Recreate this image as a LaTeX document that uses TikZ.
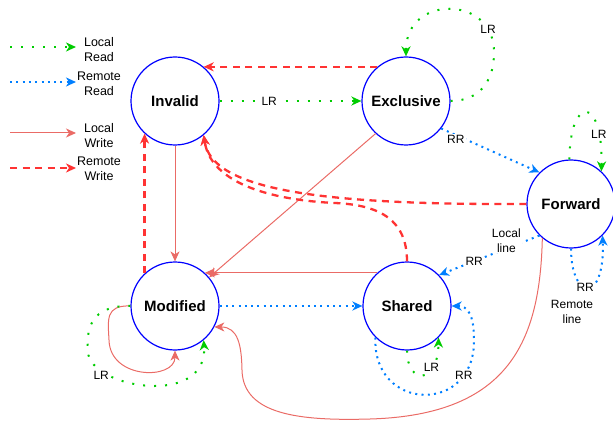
\documentclass[tikz,border=0pt]{standalone}
\usepackage{fontspec}
\setmainfont{Liberation Sans}
\usetikzlibrary{arrows.meta}
\definecolor{grn}{HTML}{00CC00}
\definecolor{blu}{HTML}{007FFF}
\definecolor{lred}{HTML}{EA6B66}
\definecolor{dred}{HTML}{FF3333}
\tikzset{st/.append style={minimum size=88pt, draw=blue, circle, line width=1.2pt, inner sep=0pt, font=\fontsize{15}{18}\selectfont\bfseries}}
\tikzset{lb/.append style={fill=white, inner sep=1pt, align=center, font=\fontsize{12}{14.5}\selectfont}}
\tikzset{kb/.append style={inner sep=1pt, align=center, font=\fontsize{12.5}{15}\selectfont}}
\tikzset{lr/.append style={draw=grn, line width=2pt, dash pattern=on 2pt off 9pt, -{Stealth[length=10pt,width=9pt,inset=3pt]}}}
\tikzset{rr/.append style={draw=blu, line width=2pt, dash pattern=on 2pt off 4.3pt, -{Stealth[length=10pt,width=9pt,inset=3pt]}}}
\tikzset{lw/.append style={draw=lred, line width=1pt, -{Stealth[length=10pt,width=9pt,inset=3pt]}}}
\tikzset{rw/.append style={draw=dred, line width=2.3pt, dash pattern=on 7pt off 5.5pt, -{Stealth[length=10pt,width=9pt,inset=3pt]}}}

\begin{document}
\begin{tikzpicture}[x=1pt,y=-1pt]
                \useasboundingbox (0,0) rectangle (613,422);
                % legend
                \coordinate (k1a) at (10,47); \coordinate (k1b) at (76,47);
                \coordinate (k2a) at (10,82); \coordinate (k2b) at (76,82);
                \coordinate (k3a) at (10,133); \coordinate (k3b) at (76,133);
                \coordinate (k4a) at (10,168); \coordinate (k4b) at (76,168);
                \node[kb] (k1) at (99,50) {Local\\Read};
                \node[kb] (k2) at (99,84) {Remote\\Read};
                \node[kb] (k3) at (99,136) {Local\\Write};
                \node[kb] (k4) at (99,169) {Remote\\Write};
                \draw[lr] (k1a) -- (k1b);
                \draw[rr] (k2a) -- (k2b);
                \draw[lw] (k3a) -- (k3b);
                \draw[rw] (k4a) -- (k4b);
                % states
                \node[st] (inv) at (175,101) {Invalid};
                \node[st] (exc) at (406,101) {Exclusive};
                \node[st] (fwd) at (571,204) {Forward};
                \node[st] (mod) at (175,306) {Modified};
                \node[st] (shr) at (407,306) {Shared};
                \path (inv) edge[lr] node[lb,pos=0.35]{LR} (exc) edge[lw] (mod);
                \path (exc.130) edge[rw] (inv.50);
                \path (exc.-133) edge[lw] (mod.40);
                \path (exc.-38) edge[rr] node[lb,pos=0.15,yshift=-4pt]{RR} (fwd.135);
                \path (mod.133) edge[rw] (inv.-133);
                \path (mod) edge[rr] (shr);
                \path (shr.132) edge[lw] (mod.48);
                \path (fwd.-135) edge[rr] node[lb,pos=0.33,yshift=8pt]{Local\\line} node[lb,pos=0.65]{RR} (shr.44);
                % loops and bends
                \draw[lr] (exc.east) .. controls (480,101) and (495,80) .. (494,50)
                    .. controls (492,-5) and (406,-5) .. (exc.north) node[lb,pos=0.15]{LR};
                \draw[lr] (fwd.92) .. controls (570,95) and (603,95) .. (fwd.47) node[lb,pos=0.8]{LR};
                \draw[rr] (fwd.south) .. controls (571,300) and (605,305) .. (fwd.-45) node[lb,pos=0.45]{RR};
                \node[lb] (rl) at (572,312) {Remote\\line};
                \draw[rw] (fwd.west) .. controls (320,205) and (212,190) .. (inv.-50);
                \draw[rw] (shr.north) .. controls (407,220) and (380,205) .. (335,203)
                    .. controls (290,201) and (212,190) .. (inv.-50);
                \draw[lw] (mod.west) .. controls (105,305) and (108,320) .. (109,340)
                    .. controls (110,380) and (175,380) .. (mod.south);
                \draw[lr] (mod.west) .. controls (90,305) and (86,330) .. (88,352)
                    .. controls (90,388) and (208,408) .. (mod.-50) node[lb,pos=0.2,yshift=-4pt]{LR};
                \draw[lr] (shr.south) .. controls (407,385) and (438,385) .. (shr.-45) node[lb,pos=0.7]{LR};
                \draw[rr] (shr.-135) .. controls (372,412) and (475,415) .. (474,340) node[lb,pos=0.8]{RR}
                    .. controls (474,315) and (468,306) .. (shr.east);
                \draw[lw] (fwd.-130) .. controls (540,340) and (510,415) .. (370,419)
                    .. controls (300,421) and (243,415) .. (242,370)
                    .. controls (241.5,345) and (238,327) .. (mod.-28);
            \end{tikzpicture}
\end{document}
